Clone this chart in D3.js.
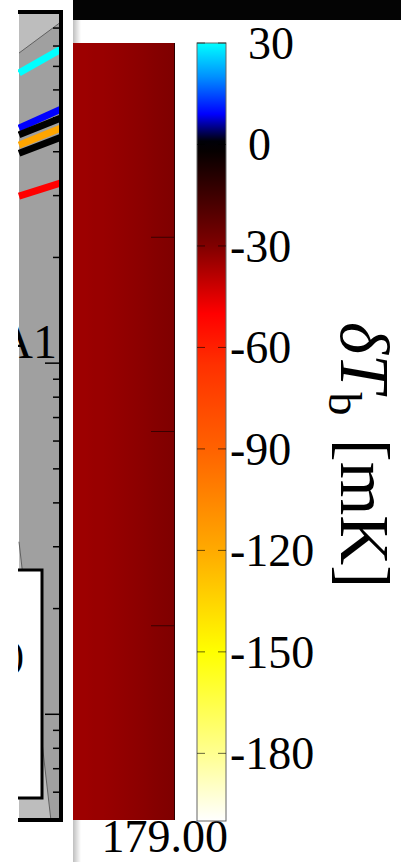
<!DOCTYPE html>
<html>
<head>
<meta charset="utf-8">
<script src="https://cdn.jsdelivr.net/npm/d3@7"></script>
<style>
  html, body { margin: 0; padding: 0; background: #fff; overflow: hidden; }
  svg { display: block; }
  text { font-family: 'Liberation Serif', 'DejaVu Serif', serif; fill: #000; }
</style>
</head>
<body>
<div id="chart"></div>
<script>
// colour bar: delta T_b in mK
const colorDomain = [-200, 30]
const colorTicks = [30, 0, -30, -60, -90, -120, -150, -180]
const cmapValues = [30, 20, 9, 1, -2, -30, -50, -65, -90, -120, -150, -180, -200]
const cmapColors = ['#00ffff', '#0090ff', '#0000ff', '#000008', '#060000', '#800000', '#ff0000', '#ff3000',
  '#ff6200', '#ffaa00', '#ffff00', '#ffff90', '#ffffff']

// map panel (a slice of it): column values in mK, left to right
const mapColumns = [-34.5, -34.5, -34, -34, -33.5, -33, -32.5, -32, -31.5, -31, -30.5, -30]
const mapRowTicks = [1, 2, 3]
const redshiftLabel = '179.00'

// left panel: log y axis, lines given as [left, right] values of the visible slice
const leftDomain = [0.5, 100]
const leftMajorTicks = [1, 10]
const leftMinorTicks = [0.6, 0.7, 0.8, 0.9, 2, 3, 4, 5, 6, 7, 8, 9, 20, 30, 40, 50, 60, 70, 80, 90]
const leftLineNames = ['cyan', 'blue', 'black1', 'orange', 'black2', 'red']
const leftLineColors = ['#00ffff', '#0000ff', '#000000', '#ffa500', '#000000', '#ff0000']
const leftLineLeft = [67, 46.7, 44.7, 41.8, 39.6, 29.9]
const leftLineRight = [78.4, 52.9, 49.9, 46.7, 44.0, 32.6]
const upperEdge = [76.4, 93.7]
const lowerEdge = [[0, 3.1], [0.76, 0.5]]

const width = 401
const height = 862

const svg = d3.select('#chart').append('svg')
  .attr('width', width)
  .attr('height', height)

const defs = svg.append('defs')

// the crop cuts the left panel at x = 18
defs.append('clipPath').attr('id', 'leftClip')
  .append('rect')
    .attr('x', 18).attr('y', 0)
    .attr('width', 52).attr('height', height)

// ---------- left panel ----------
const lx = d3.scaleLinear().domain([0, 1]).range([19, 61])
const ly = d3.scaleLog().domain(leftDomain).range([820, 12])

const left = svg.append('g')
  .attr('class', 'left-panel')
  .attr('clip-path', 'url(#leftClip)')

left.append('rect')
  .attr('x', lx(0)).attr('y', ly(100))
  .attr('width', lx(1) - lx(0)).attr('height', ly(0.5) - ly(100))
  .style('fill', '#a0a0a0')

// lighter regions outside the model envelope
left.append('path')
  .attr('d', `M${lx(0)},${ly(100)} L${lx(1)},${ly(100)} L${lx(1)},${ly(upperEdge[1])} L${lx(0)},${ly(upperEdge[0])} Z`)
  .style('fill', '#bdbdbd')
left.append('path')
  .attr('d', `M${lx(0)},${ly(lowerEdge[0][1])} L${lx(lowerEdge[1][0])},${ly(lowerEdge[1][1])} L${lx(0)},${ly(0.5)} Z`)
  .style('fill', '#bdbdbd')

const edgeLine = d3.line().x(d => lx(d[0])).y(d => ly(d[1]))
left.append('path')
  .attr('d', edgeLine([[0, upperEdge[0]], [1, upperEdge[1]]]))
  .style('stroke', '#606060').style('stroke-width', 1).style('fill', 'none')
left.append('path')
  .attr('d', edgeLine(lowerEdge))
  .style('stroke', '#606060').style('stroke-width', 1).style('fill', 'none')

const lineData = leftLineNames.map((name, i) => ({
  name,
  color: leftLineColors[i],
  points: [[0, leftLineLeft[i]], [1, leftLineRight[i]]]
}))

left.selectAll('.model-line')
  .data(lineData)
  .enter()
  .append('path')
    .attr('class', 'model-line')
    .attr('d', d => edgeLine(d.points))
    .style('stroke', d => d.color)
    .style('stroke-width', 7)
    .style('fill', 'none')

// panel label (cut by the crop)
left.append('text')
  .attr('x', 57).attr('y', 358)
  .attr('text-anchor', 'end')
  .style('font-size', '48px')
  .text('A1')

// legend box, mostly outside the crop
left.append('rect')
  .attr('x', -60).attr('y', 570)
  .attr('width', 102).attr('height', 228)
  .style('fill', '#fff')
  .style('stroke', '#000')
  .style('stroke-width', 3)
left.append('text')
  .attr('x', 24).attr('y', 668)
  .attr('text-anchor', 'end')
  .style('font-size', '40px')
  .text(')')

// right axis with inward ticks
left.selectAll('.minor-tick')
  .data(leftMinorTicks)
  .enter()
  .append('line')
    .attr('x1', 53).attr('x2', 61)
    .attr('y1', d => ly(d)).attr('y2', d => ly(d))
    .style('stroke', '#000').style('stroke-width', 1.5)
left.selectAll('.major-tick')
  .data(leftMajorTicks)
  .enter()
  .append('line')
    .attr('x1', 45).attr('x2', 61)
    .attr('y1', d => ly(d)).attr('y2', d => ly(d))
    .style('stroke', '#000').style('stroke-width', 1.5)

left.append('path')
  .attr('d', `M${lx(0) - 2},${ly(100)} H${lx(1)} V${ly(0.5)} H${lx(0) - 2}`)
  .style('fill', 'none')
  .style('stroke', '#000')
  .style('stroke-width', 4)

// ---------- page strip ----------
const shadow = defs.append('linearGradient').attr('id', 'shadow')
shadow.append('stop').attr('offset', '0%').attr('stop-color', '#bfbfbf')
shadow.append('stop').attr('offset', '100%').attr('stop-color', '#ffffff')

svg.append('rect')
  .attr('x', 73).attr('y', 0)
  .attr('width', 8).attr('height', height)
  .style('fill', 'url(#shadow)')

svg.append('rect')
  .attr('x', 73).attr('y', 0)
  .attr('width', width - 73).attr('height', 20)
  .style('fill', '#040404')

// ---------- colour scale ----------
const color = d3.scaleLinear().domain(cmapValues).range(cmapColors).clamp(true)
const cy = d3.scaleLinear().domain(colorDomain).range([821, 43])

// ---------- map panel ----------
const mx = d3.scaleBand().domain(d3.range(mapColumns.length)).range([73, 175])
const my = d3.scaleLinear().domain([0, 4]).range([43, 820])

// smooth the columns horizontally, the way the shaded map looks
const mapGrad = defs.append('linearGradient')
  .attr('id', 'mapGrad')
  .attr('gradientUnits', 'userSpaceOnUse')
  .attr('x1', mx(0) + mx.bandwidth() / 2)
  .attr('x2', mx(mapColumns.length - 1) + mx.bandwidth() / 2)
  .attr('y1', 0).attr('y2', 0)
mapGrad.selectAll('stop')
  .data(mapColumns)
  .enter()
  .append('stop')
    .attr('offset', (d, i) => i / (mapColumns.length - 1))
    .attr('stop-color', d => color(d))

const map = svg.append('g').attr('class', 'map-panel')
map.append('rect')
  .attr('x', mx.range()[0]).attr('y', my(0))
  .attr('width', mx.range()[1] - mx.range()[0])
  .attr('height', my(4) - my(0))
  .style('fill', 'url(#mapGrad)')

map.selectAll('.row-tick')
  .data(mapRowTicks)
  .enter()
  .append('line')
    .attr('x1', 151).attr('x2', 175)
    .attr('y1', d => my(d)).attr('y2', d => my(d))
    .style('stroke', '#3a0000').style('stroke-width', 1)

map.append('line')
  .attr('x1', 174.5).attr('x2', 174.5)
  .attr('y1', my(0)).attr('y2', my(4))
  .style('stroke', '#2a0000').style('stroke-width', 1)

svg.append('text')
  .attr('x', 228).attr('y', 852)
  .attr('text-anchor', 'end')
  .style('font-size', '46px')
  .text(redshiftLabel)

// ---------- colour bar ----------
const cbX = 197
const cbW = 29
const grad = defs.append('linearGradient')
  .attr('id', 'cbar')
  .attr('gradientUnits', 'userSpaceOnUse')
  .attr('x1', 0).attr('x2', 0)
  .attr('y1', cy(colorDomain[1])).attr('y2', cy(colorDomain[0]))

grad.selectAll('stop')
  .data(cmapValues)
  .enter()
  .append('stop')
    .attr('offset', d => (cy(d) - cy(colorDomain[1])) / (cy(colorDomain[0]) - cy(colorDomain[1])))
    .attr('stop-color', d => color(d))

const cbar = svg.append('g').attr('class', 'colorbar')
cbar.append('rect')
  .attr('x', cbX).attr('y', cy(colorDomain[1]))
  .attr('width', cbW).attr('height', cy(colorDomain[0]) - cy(colorDomain[1]))
  .style('fill', 'url(#cbar)')
  .style('stroke', '#666')
  .style('stroke-width', 1)

cbar.selectAll('.tick-l')
  .data(colorTicks)
  .enter()
  .append('line')
    .attr('x1', cbX).attr('x2', cbX + 8)
    .attr('y1', d => cy(d)).attr('y2', d => cy(d))
    .style('stroke', '#000').style('stroke-opacity', 0.6).style('stroke-width', 1)
cbar.selectAll('.tick-r')
  .data(colorTicks)
  .enter()
  .append('line')
    .attr('x1', cbX + cbW - 8).attr('x2', cbX + cbW)
    .attr('y1', d => cy(d)).attr('y2', d => cy(d))
    .style('stroke', '#000').style('stroke-opacity', 0.6).style('stroke-width', 1)

cbar.selectAll('.tick-label')
  .data(colorTicks)
  .enter()
  .append('text')
    .attr('x', d => d < 0 ? 230 : 248)
    .attr('y', d => cy(d) + 16)
    .style('font-size', '46px')
    .text(d => d)

// axis title, rotated clockwise
const title = svg.append('text')
  .attr('transform', 'translate(341,322) rotate(90)')
  .style('font-size', '69px')
title.append('tspan').style('font-style', 'italic').text('δT')
title.append('tspan').attr('dy', 12).style('font-size', '46px').text('b')
title.append('tspan').attr('dy', -12).attr('dx', 6).text(' [mK]')
</script>
</body>
</html>
